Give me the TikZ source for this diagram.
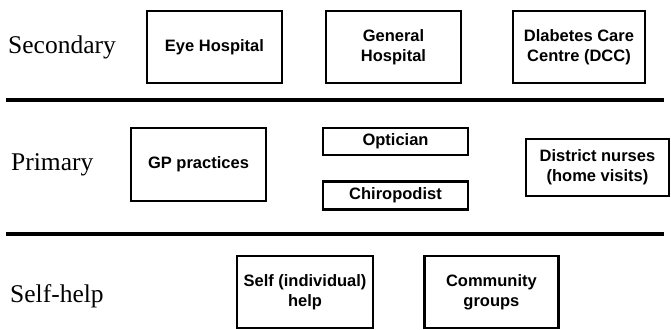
\documentclass[tikz,border=0pt]{standalone}
\usepackage{fontspec}
\setmainfont{Liberation Serif}
\setsansfont{Liberation Sans}
\usetikzlibrary{positioning}

\begin{document}
\begin{tikzpicture}[
    x=1pt, y=-1pt,
    every node/.style={inner sep=0pt},
    level/.style={anchor=west, font=\fontsize{25.5}{29}\selectfont},
    box/.style={draw, line width=2.4pt, align=center,
                font=\sffamily\bfseries\fontsize{16.5}{20}\selectfont},
    divider/.style={line width=4.5pt}]
  \useasboundingbox (0,0) rectangle (671,329);
  % --- secondary care ---
  \node[level] (sec) at (8,47) {Secondary};
  \node[box, minimum width=135pt, minimum height=72pt] (eye) at (214.5,47) {Eye Hospital};
  \node[box, minimum width=135pt, minimum height=72pt] (gen) at (393.5,47) {General\\Hospital};
  \node[box, minimum width=132pt, minimum height=72pt] (dcc) at (579,47) {Dlabetes Care\\Centre (DCC)};
  \coordinate (d1l) at (6,100);
  \coordinate (d1r) at (664,100);
  \draw[divider] (d1l) -- (d1r);
  % --- primary care ---
  \node[level] (pri) at (11,165) {Primary};
  \node[box, minimum width=135pt, minimum height=73pt] (gp) at (198.5,164.5) {GP practices};
  \node[box, minimum width=145pt, minimum height=27pt] (opt) at (395.5,141.5) {Optician};
  \node[box, minimum width=145pt, minimum height=28pt, below=24pt of opt] (chi) {Chiropodist};
  \node[box, minimum width=143pt, minimum height=57pt] (dist) at (597.5,167.5) {District nurses\\(home visits)};
  \coordinate (d2l) at (6,234);
  \coordinate (d2r) at (664,234);
  \draw[divider] (d2l) -- (d2r);
  % --- self-help ---
  \node[level] (self) at (10,296) {Self-help};
  \node[box, minimum width=136pt, minimum height=72pt] (ind) at (305,292) {Self (individual)\\help};
  \node[box, minimum width=134pt, minimum height=72pt, right=49pt of ind] (com) {Community\\groups};
\end{tikzpicture}
\end{document}
